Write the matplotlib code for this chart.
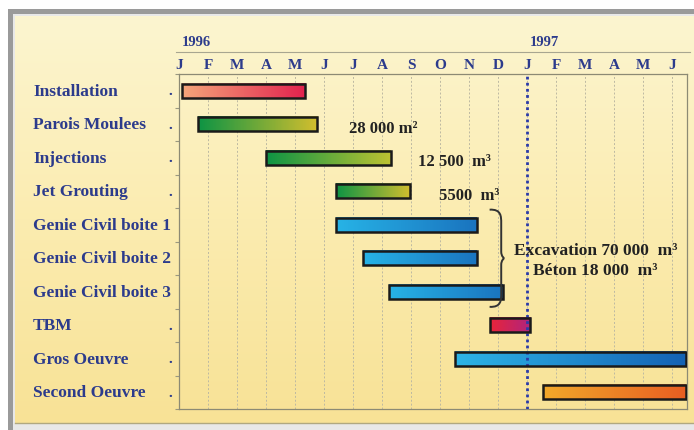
import matplotlib.pyplot as plt
import numpy as np
from matplotlib.patches import Rectangle, PathPatch
from matplotlib.path import Path
from matplotlib.colors import LinearSegmentedColormap
from matplotlib.transforms import blended_transform_factory

# tasks, start/end as month index (0 = Jan 1996)
tasks = ["Installation", "Parois Moulees", "Injections", "Jet Grouting",
         "Genie Civil boite 1", "Genie Civil boite 2", "Genie Civil boite 3",
         "TBM", "Gros Oeuvre", "Second Oeuvre"]
starts = [0.1, 0.65, 3.0, 5.4, 5.4, 6.35, 7.25, 10.7, 9.5, 12.55]
ends = [4.35, 4.75, 7.3, 7.95, 10.25, 10.25, 11.15, 12.1, 17.45, 17.45]
show_dot = [True, True, True, True, False, False, False, True, True, True]
bar_colors = [("#f4a57a", "#e2224e"), ("#0e9444", "#d2be2e"),
              ("#0e9444", "#bcc232"), ("#0e9444", "#d2be2e"),
              ("#27b3e6", "#1a74bf"), ("#27b3e6", "#1a74bf"),
              ("#27b3e6", "#1a74bf"), ("#e8243a", "#b0247e"),
              ("#2db4e6", "#1462b4"), ("#f2a82a", "#e85e22")]
month_labels = ["J", "F", "M", "A", "M", "J", "J", "A", "S", "O", "N", "D",
                "J", "F", "M", "A", "M", "J"]
years = [("1996", 0), ("1997", 12)]
notes = [("28 000 m\u00b2", 5.85, 1.1), ("12 500  m\u00b3", 8.25, 2.1),
         ("5500  m\u00b3", 8.95, 3.1)]
group_note = ["Excavation 70 000  m\u00b3", "B\u00e9ton 18 000  m\u00b3"]

SERIF = "Liberation Serif"
BLUE = "#2c3b8c"

W, H = 694, 431
fig = plt.figure(figsize=(W / 100, H / 100), dpi=100)
fig.patch.set_facecolor("white")

# framed cream panel
bg = fig.add_axes([0, 0, 1, 1], zorder=-5)
bg.axis("off")
bg.add_patch(Rectangle((8, 10), W, H, facecolor="#9a9a9a", edgecolor="none"))
bg.add_patch(Rectangle((13, 15), W, H, facecolor="#e8e8e8", edgecolor="none"))
grad = np.linspace(0, 1, 200)[:, None] * np.ones((1, 50))
cream = LinearSegmentedColormap.from_list("cream", ["#fcf5d0", "#fbecb0", "#f8e296"])
bg.imshow(grad, cmap=cream, extent=(15, W, 424, 17), aspect="auto", zorder=1)
bg.plot([15, W], [424.5, 424.5], color="#b0a880", lw=1, zorder=2)
bg.set_xlim(0, W)
bg.set_ylim(H, 0)

ax = fig.add_axes([179 / W, (H - 410) / H, (687 - 179) / W, (410 - 75) / H])
ax.patch.set_alpha(0)

# month grid
for m in range(1, 18):
    ax.axvline(m, color="#bdb9a2", lw=0.7, ls=(0, (2, 2)), zorder=1)
ax.axvline(12, color="#2a3aa8", lw=2, ls=(0, (1, 1.2)), zorder=4)

h = 0.42
for i, (s, e, (c0, c1)) in enumerate(zip(starts, ends, bar_colors)):
    cmap = LinearSegmentedColormap.from_list("b%d" % i, [c0, c1])
    ax.imshow(np.linspace(0, 1, 100)[None, :], cmap=cmap, aspect="auto",
              extent=(s, e, i + h / 2, i - h / 2), zorder=3)
    ax.add_patch(Rectangle((s, i - h / 2), e - s, h, fill=False,
                           edgecolor="#1a1a1a", lw=1.8, zorder=5))
ax.set_xlim(0, 17.5)
ax.set_ylim(9.5, -0.5)

for sp in ax.spines.values():
    sp.set_color("#8c8a74")
    sp.set_linewidth(0.9)
ax.set_xticks(range(18))
ax.set_xticklabels(month_labels)
ax.xaxis.tick_top()
ax.tick_params(axis="x", length=0, pad=2, labelsize=11, labelcolor=BLUE)
for lab in ax.get_xticklabels():
    lab.set_fontfamily(SERIF)
    lab.set_fontweight("bold")
ax.set_yticks(np.arange(-0.5, 9.6, 1))
ax.set_yticklabels([])
ax.tick_params(axis="y", length=3, color="#9a9880", direction="out")

# task names and dots
tr = blended_transform_factory(fig.transFigure, ax.transData)
for i, (name, dot) in enumerate(zip(tasks, show_dot)):
    ax.text(33 / W, i, name, transform=tr, ha="left", va="center",
            fontfamily=SERIF, fontweight="bold", fontsize=12.5, color=BLUE)
    if dot:
        ax.text(170 / W, i, ".", transform=tr, ha="center", va="center",
                fontfamily=SERIF, fontweight="bold", fontsize=11, color=BLUE)

# years and the rule beneath them
tr_top = blended_transform_factory(ax.transData, fig.transFigure)
for yr, m in years:
    ax.text(m + 0.6, (H - 42) / H, yr, transform=tr_top, ha="center",
            va="center", fontfamily=SERIF, fontweight="bold",
            fontsize=10.5, color=BLUE)
ax.plot([-0.1, 17.6], [(H - 53) / H] * 2, transform=tr_top, color="#a8a690",
        lw=0.8, clip_on=False)

# quantities
for txt, x, y in notes:
    ax.text(x, y, txt, ha="left", va="center", fontfamily=SERIF,
            fontweight="bold", fontsize=12, color="#222222")

# brace around the three civil works rows
bx, y0, y1 = 11.05, 3.55, 6.45
ym = (y0 + y1) / 2
verts = [(bx - 0.35, y0), (bx + 0.05, y0 - 0.02), (bx + 0.05, y0 + 0.2), (bx + 0.05, y0 + 0.4),
         (bx + 0.05, ym - 0.2),
         (bx + 0.05, ym - 0.05), (bx + 0.15, ym), (bx + 0.15, ym),
         (bx + 0.15, ym), (bx + 0.05, ym + 0.05), (bx + 0.05, ym + 0.2),
         (bx + 0.05, y1 - 0.4),
         (bx + 0.05, y1 - 0.2), (bx + 0.05, y1 + 0.02), (bx - 0.35, y1)]
codes = [Path.MOVETO, Path.CURVE4, Path.CURVE4, Path.CURVE4, Path.LINETO,
         Path.CURVE4, Path.CURVE4, Path.CURVE4, Path.CURVE4, Path.CURVE4,
         Path.CURVE4, Path.LINETO, Path.CURVE4, Path.CURVE4, Path.CURVE4]
ax.add_patch(PathPatch(Path(verts, codes), fill=False, edgecolor="#333333",
                       lw=1.4, zorder=6))
ax.text(14.35, 4.75, group_note[0], ha="center", va="center",
        fontfamily=SERIF, fontweight="bold", fontsize=12.5,
        color="#222222", zorder=6)
ax.text(14.35, 5.35, group_note[1], ha="center", va="center",
        fontfamily=SERIF, fontweight="bold", fontsize=12.5,
        color="#222222", zorder=6)

fig.savefig("out.png", dpi=100)
